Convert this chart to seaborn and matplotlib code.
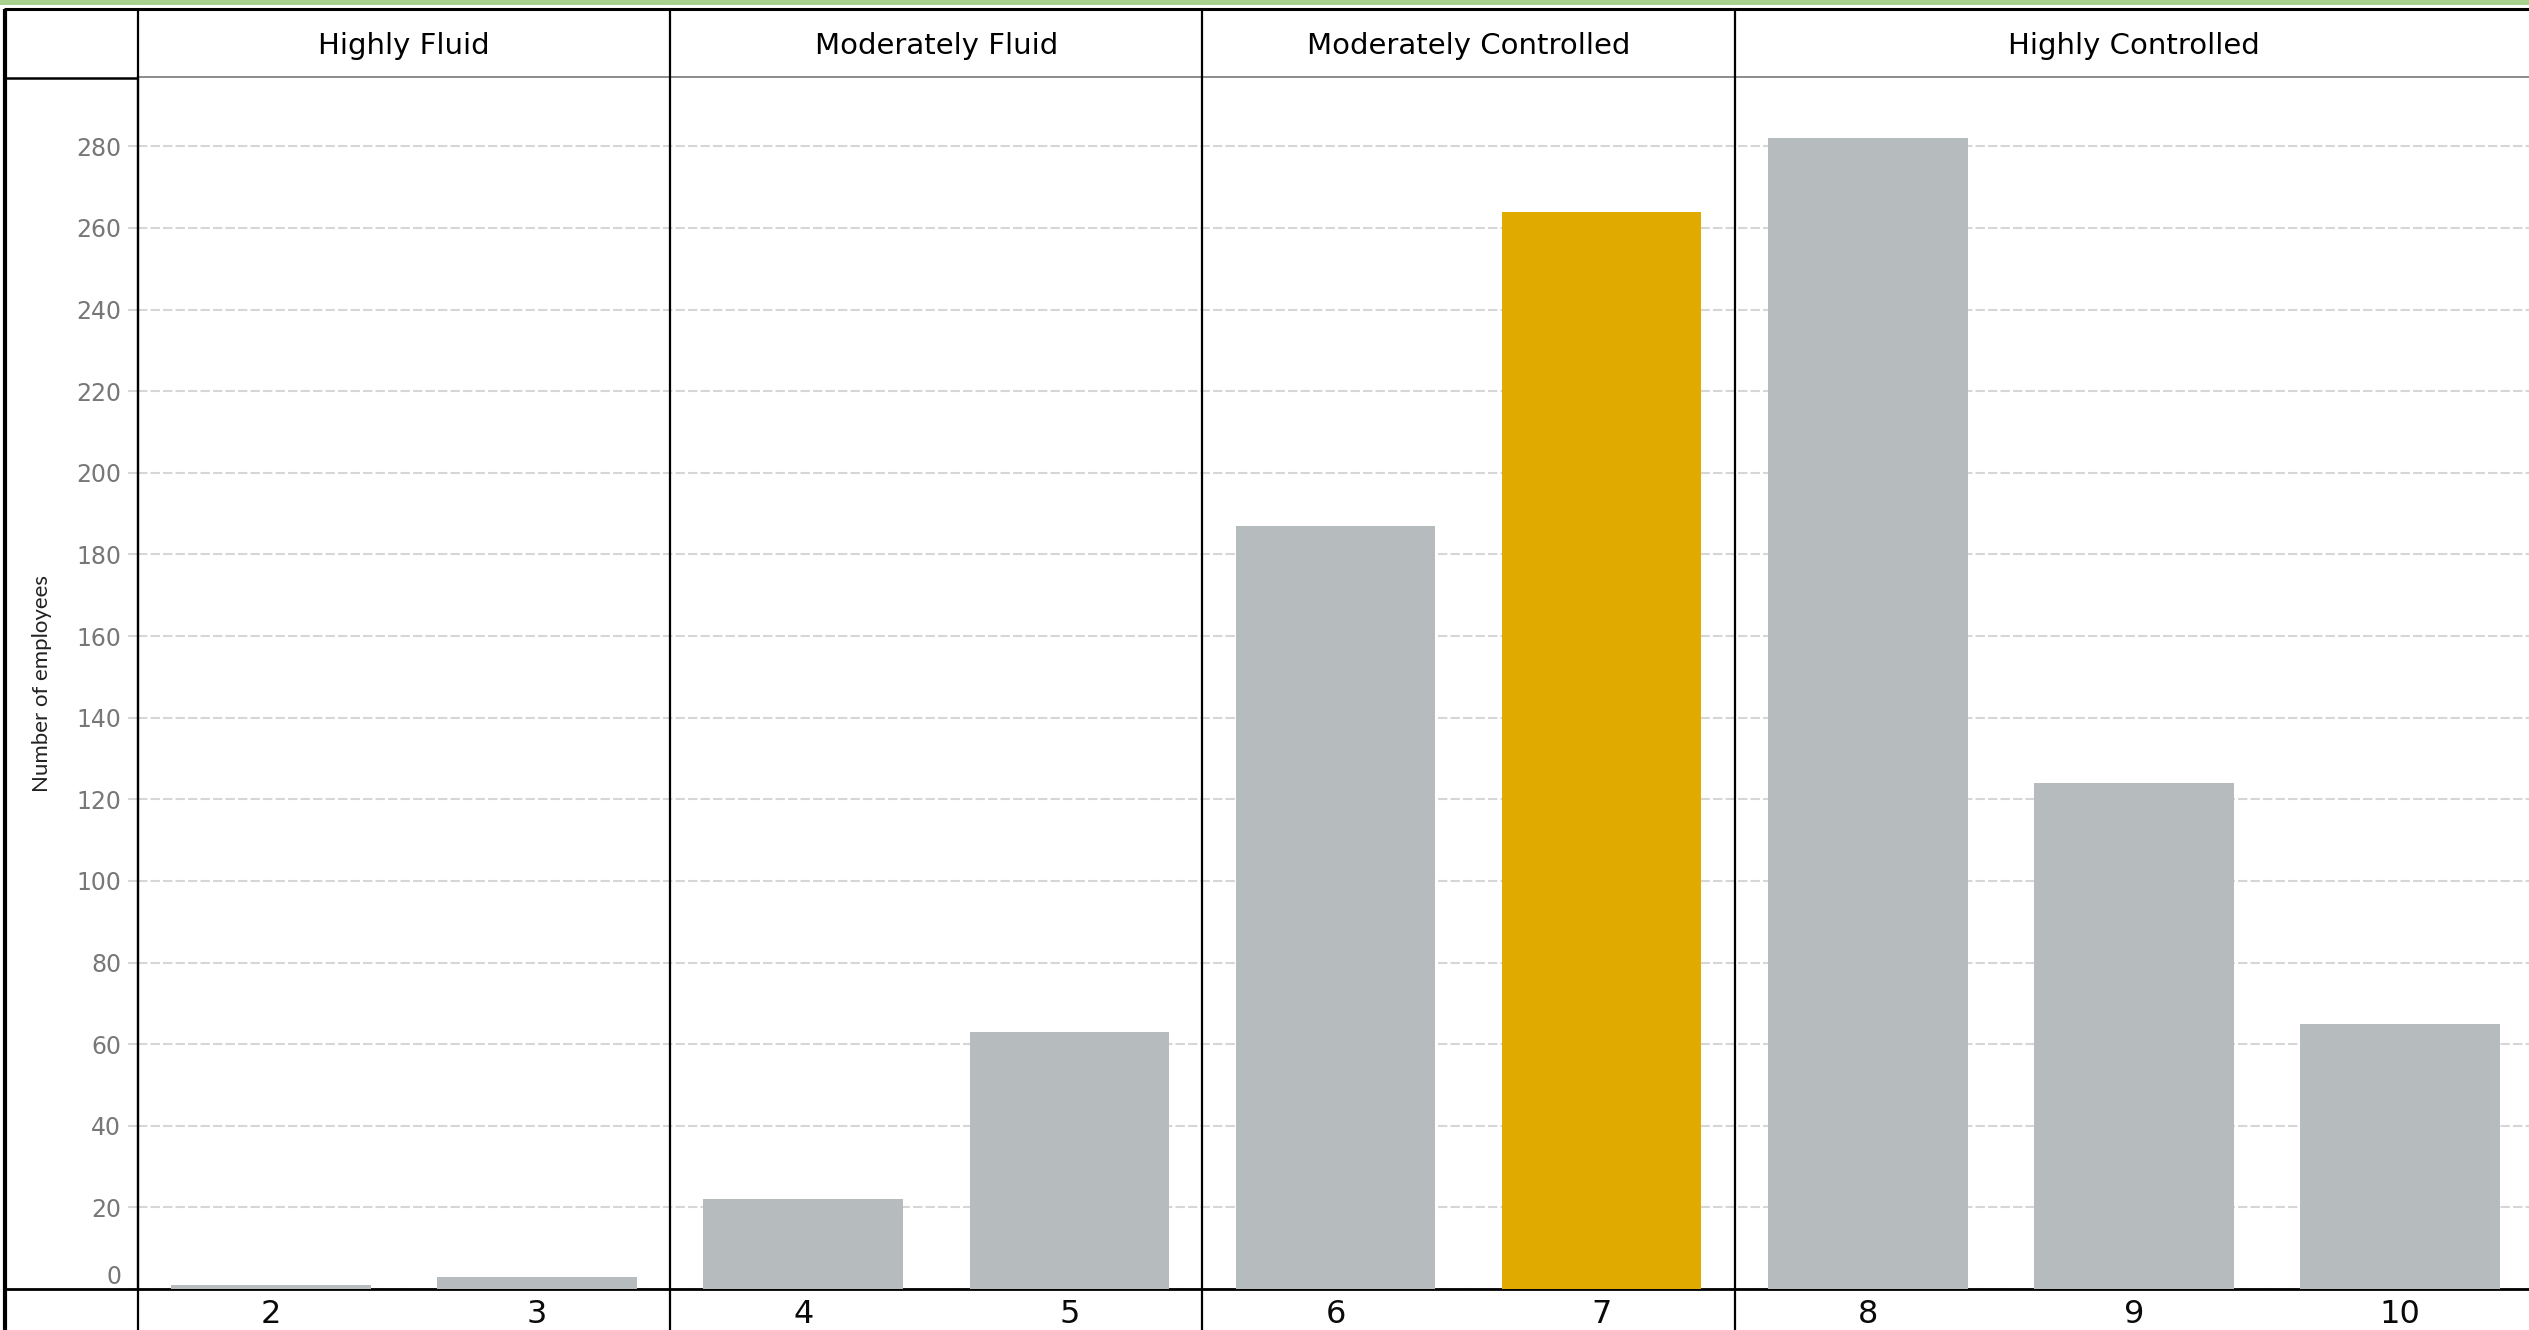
import matplotlib
matplotlib.use("Agg")
import matplotlib.pyplot as plt
import matplotlib.transforms as mtransforms
from matplotlib import font_manager
import seaborn as sns

# --- data -------------------------------------------------------------
scores = ["2", "3", "4", "5", "6", "7", "8", "9", "10"]
employees = [1, 3, 22, 63, 187, 264, 282, 124, 65]
groups = ["Highly Fluid", "Highly Fluid",
          "Moderately Fluid", "Moderately Fluid",
          "Moderately Controlled", "Moderately Controlled",
          "Highly Controlled", "Highly Controlled", "Highly Controlled"]
highlight = "7"
y_ticks = list(range(0, 281, 20))
y_label = "Number of employees"

# --- style --------------------------------------------------------------
sns.set_theme(style="white")
installed = {f.name for f in font_manager.fontManager.ttflist}
if "Liberation Sans Narrow" in installed:
    label_font, label_size = "Liberation Sans Narrow", 16
elif "Lato" in installed:
    label_font, label_size = "Lato", 16
else:
    label_font, label_size = "DejaVu Sans", 14
plt.rcParams["font.family"] = ["DejaVu Sans"]

BAR_GREY = "#b6bbbd"
BAR_GOLD = "#e0aa00"
GRID = "#d6d6d6"
GREEN = "#a9d18e"

W, H = 2529, 1330
fig = plt.figure(figsize=(W / 100, H / 100), dpi=100)
fig.patch.set_facecolor("white")

# plot area (pixel frame: x 138..2533, y 77..1289)
ax_left, ax_right, ax_top, ax_bottom = 138, 2533, 77, 1289
ax = fig.add_axes([ax_left / W, (H - ax_bottom) / H,
                   (ax_right - ax_left) / W, (ax_bottom - ax_top) / H])

palette = {s: (BAR_GOLD if s == highlight else BAR_GREY) for s in scores}
sns.barplot(x=scores, y=employees, hue=scores, palette=palette, width=0.75,
            saturation=1, legend=False, ax=ax, zorder=3, linewidth=0,
            edgecolor="none")

ax.set_xlim(-0.5, len(scores) - 0.5)
ax.set_ylim(0, 297)
ax.set_yticks(y_ticks)
ax.set_axisbelow(True)
ax.yaxis.grid(True, color=GRID, linewidth=1.5, linestyle=(0, (4.5, 1.5)), zorder=0)
ax.xaxis.grid(False)

ax.tick_params(axis="y", length=7, width=1.5, color=GRID, pad=5,
               labelsize=17, labelcolor="#777777", left=True)
ax.tick_params(axis="x", length=0, pad=7, labelsize=23, labelcolor="#0a0a0a")
ax.get_yticklabels()[0].set_va("bottom")

ax.set_xlabel("")
ax.set_ylabel(y_label, fontsize=label_size, color="#222222", family=label_font)
ax.yaxis.label.set_va("center")
ax.yaxis.set_label_coords((42 - ax_left) / (ax_right - ax_left), 0.5)

ax.spines["right"].set_visible(False)
ax.spines["left"].set_color("black")
ax.spines["left"].set_linewidth(1.6)
ax.spines["bottom"].set_color("black")
ax.spines["bottom"].set_linewidth(2.0)
ax.spines["top"].set_color("#8c8c8c")
ax.spines["top"].set_linewidth(1.4)

# table frame expressed in axes-y units
def ay(py):
    return (ax_bottom - py) / (ax_bottom - ax_top)

blend = mtransforms.blended_transform_factory(ax.transData, ax.transAxes)

# group dividers and header titles
group_names = list(dict.fromkeys(groups))
for g in group_names:
    idx = [i for i, gg in enumerate(groups) if gg == g]
    lo, hi = idx[0] - 0.5, idx[-1] + 0.5
    ax.text((lo + hi) / 2, ay(46), g, transform=blend, ha="center", va="center",
            fontsize=21, color="#000000")
    if lo > -0.5:
        ax.plot([lo, lo], [ay(9), ay(H)], transform=blend, color="black",
                linewidth=1.6, clip_on=False, zorder=5)

# left column boundary extended through header and label rows
ax.plot([-0.5, -0.5], [ay(9), ay(H)], transform=blend, color="black",
        linewidth=1.6, clip_on=False, zorder=5)

# frame lines in figure pixels
deco = fig.add_axes([0, 0, 1, 1], zorder=10)
deco.set_xlim(0, W)
deco.set_ylim(H, 0)
deco.axis("off")
deco.fill_between([0, W], 0, 5, color=GREEN, linewidth=0)
deco.plot([4, W], [9, 9], color="black", linewidth=2.2, solid_capstyle="butt")
deco.plot([5, 5], [9, H], color="black", linewidth=3.0, solid_capstyle="butt")
deco.plot([5, ax_left], [78, 78], color="black", linewidth=1.8, solid_capstyle="butt")
deco.plot([5, ax_left], [ax_bottom, ax_bottom], color="black", linewidth=2.0,
          solid_capstyle="butt")

fig.savefig("out.png", dpi=100, facecolor="white")
